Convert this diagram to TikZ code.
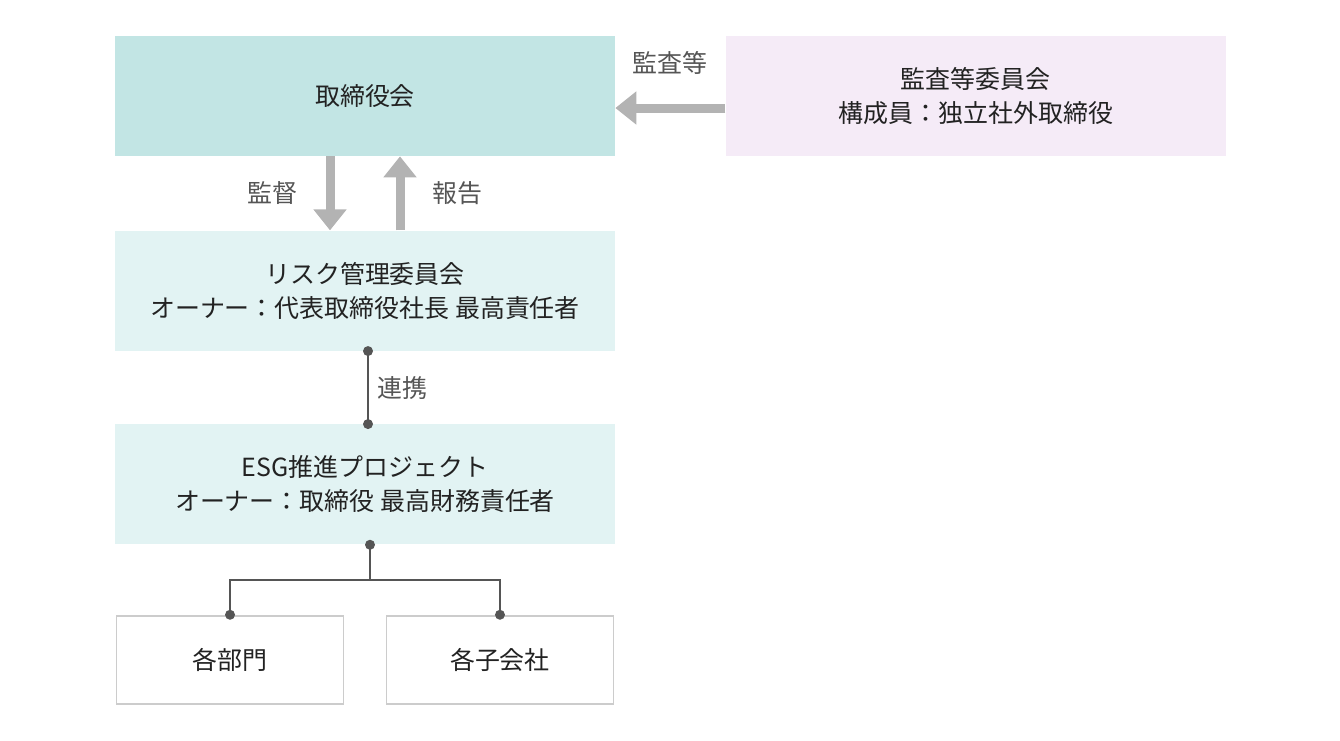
\documentclass[tikz,border=0pt]{standalone}
\usepackage{fontspec}
\setmainfont{Noto Sans CJK JP}
\usepackage{tikz}
\usetikzlibrary{positioning, arrows.meta}
\definecolor{boardcol}{HTML}{C2E5E4}
\definecolor{auditcol}{HTML}{F5EBF7}
\definecolor{lightcol}{HTML}{E2F3F3}
\definecolor{framecol}{HTML}{CCCCCC}
\definecolor{arrowcol}{HTML}{B3B3B3}
\definecolor{linecol}{HTML}{555555}
\definecolor{textcol}{HTML}{222222}

\begin{document}
\begin{tikzpicture}[node distance=1.48cm, font=\fontsize{14.2}{19.3}\selectfont]
                \tikzstyle{bigbox} = [rectangle, minimum width=10cm, minimum height=2.4cm, align=center, text=textcol, inner sep=0pt]
                \tikzstyle{boardbox} = [bigbox, fill=boardcol]
                \tikzstyle{auditbox} = [bigbox, fill=auditcol]
                \tikzstyle{lightbox} = [bigbox, fill=lightcol]
                \tikzstyle{smallbox} = [rectangle, minimum width=4.54cm, minimum height=1.76cm, draw=framecol, line width=1pt, text=textcol, inner sep=0pt]
                \tikzstyle{arrow} = [arrowcol, line width=0.18cm, -{Triangle[width=0.64cm, length=0.42cm]}]
                \tikzstyle{label} = [text=linecol]
                \tikzstyle{link} = [linecol, line width=1.3pt]
                \tikzstyle{dot} = [fill=linecol]

                \useasboundingbox (0,0) rectangle (26.8,-14.8);
                \node (board) [boardbox] at (7.3,-1.92) {取締役会};
                \node (audit) [auditbox, right=2.2cm of board] {監査等委員会\\構成員：独立社外取締役};
                \node (risk) [lightbox, below=of board] {リスク管理委員会\\オーナー：代表取締役社長 最高責任者};
                \node (esg) [lightbox, below=1.46cm of risk] {ESG推進プロジェクト\\オーナー：取締役 最高財務責任者};
                \node (dept) [smallbox, anchor=north west] at ([xshift=0.02cm, yshift=-1.4cm]esg.south west) {各部門};
                \node (subs) [smallbox, anchor=north east] at ([xshift=-0.02cm, yshift=-1.4cm]esg.south east) {各子会社};

                \draw [arrow] ([yshift=-0.24cm]audit.west) -- node[label, yshift=0.9cm] {監査等} ([yshift=-0.24cm]board.east);
                \draw [arrow] ([xshift=-0.7cm]board.south) -- node[label, left=0.45cm] {監督} ([xshift=-0.7cm]risk.north);
                \draw [arrow] ([xshift=0.7cm]risk.north) -- node[label, right=0.45cm] {報告} ([xshift=0.7cm]board.south);

                \coordinate (riskdot) at ([xshift=0.06cm]risk.south);
                \coordinate (esgtop) at ([xshift=0.06cm]esg.north);
                \coordinate (esgdot) at ([xshift=0.1cm]esg.south);
                \draw [link] (riskdot) -- node[label, right=0.05cm] {連携} (esgtop);
                \fill [dot] (riskdot) circle (0.1cm);
                \fill [dot] (esgtop) circle (0.1cm);

                \draw [link] (esgdot) -- ++(0,-0.7) coordinate (fork);
                \draw [link] (fork) -| (dept.north);
                \draw [link] (fork) -| (subs.north);
                \fill [dot] (esgdot) circle (0.1cm);
                \fill [dot] (dept.north) circle (0.1cm);
                \fill [dot] (subs.north) circle (0.1cm);
            \end{tikzpicture}
\end{document}
